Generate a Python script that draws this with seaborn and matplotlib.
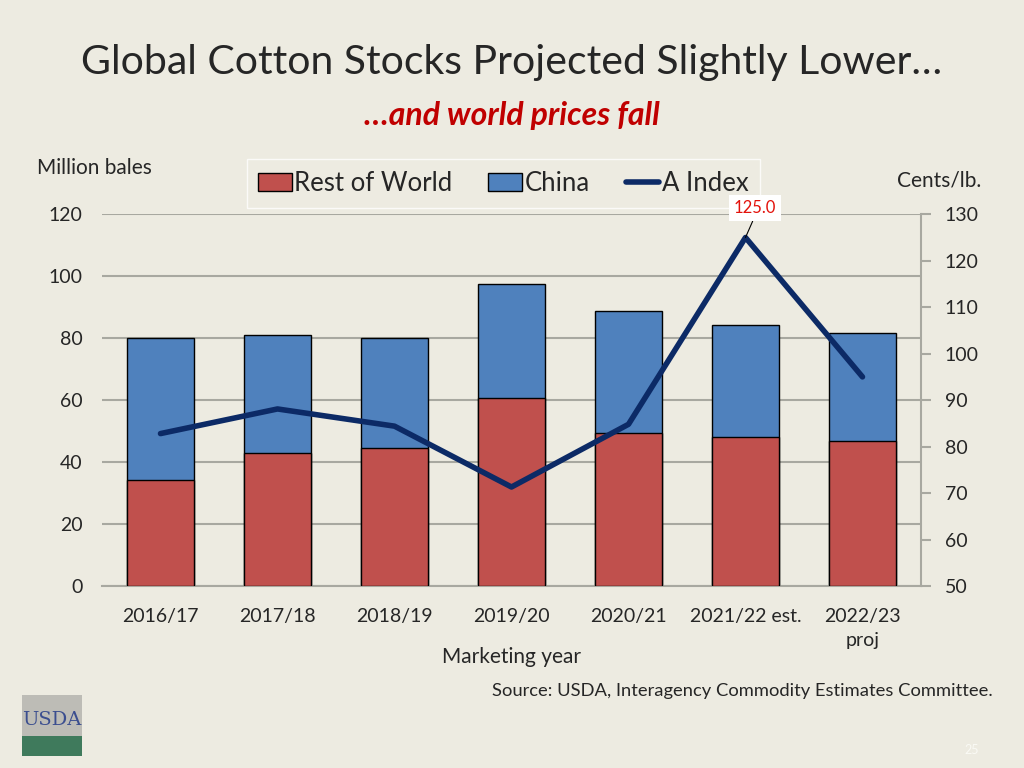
import matplotlib.pyplot as plt
from matplotlib.patches import Rectangle
import seaborn as sns
import pandas as pd

years = ['2016/17', '2017/18', '2018/19', '2019/20', '2020/21', '2021/22 est.', '2022/23\nproj']
rest_of_world = [34.2, 42.9, 44.5, 60.6, 49.4, 48.1, 46.8]
china = [45.8, 38.1, 35.5, 36.8, 39.3, 36.1, 34.8]
a_index = [82.8, 88.1, 84.4, 71.3, 84.8, 125.0, 95.0]

bg = '#EDEBE1'
red = '#C0504D'
blue = '#4F81BD'
navy = '#0C2A66'

sns.set_style('white')
plt.rcParams['font.family'] = ['Lato', 'DejaVu Sans']

df = pd.DataFrame({'year': years, 'row': rest_of_world, 'china': china, 'aindex': a_index})
df['total'] = df['row'] + df['china']

fig = plt.figure(figsize=(10.24, 7.68), dpi=100, facecolor=bg)
ax = fig.add_axes([0.0996, 0.237, 0.7998, 0.484])
ax.set_facecolor(bg)

# stacked bars: total (blue) behind, rest of world (red) in front
sns.barplot(data=df, x='year', y='total', color=blue, width=0.57, edgecolor='black',
            linewidth=1, saturation=1, ax=ax, zorder=2)
sns.barplot(data=df, x='year', y='row', color=red, width=0.57, edgecolor='black',
            linewidth=1, saturation=1, ax=ax, zorder=3)

ax.set_ylim(0, 120)
ax.set_yticks(range(0, 121, 20))
ax.set_xlim(-0.5, len(years) - 0.5)
ax.yaxis.grid(True, color='#A8A8A0', linewidth=1.5, zorder=0)
ax.set_axisbelow(True)
for s in ['top', 'right', 'left']:
    ax.spines[s].set_visible(False)
ax.spines['bottom'].set_color('#A8A8A0')
ax.spines['bottom'].set_linewidth(1.5)
ax.tick_params(axis='y', labelsize=14, length=0, pad=14)
ax.tick_params(axis='x', labelsize=14, length=0, pad=16)
for lbl in ax.get_xticklabels():
    lbl.set_linespacing(1.45)
ax.set_ylabel('')
ax.set_xlabel('')

ax2 = ax.twinx()
sns.lineplot(x=list(range(len(years))), y=df['aindex'], color=navy, linewidth=4, ax=ax2, zorder=4)
ax2.set_ylim(50, 130)
ax2.set_yticks(range(50, 131, 10))
ax2.set_ylabel('')
for s in ['top', 'left', 'bottom']:
    ax2.spines[s].set_visible(False)
ax2.spines['right'].set_color('#A8A8A0')
ax2.spines['right'].set_linewidth(1.5)
ax2.tick_params(axis='y', labelsize=14, length=7, width=1.5, color='#A8A8A0', pad=10)
ax.set_zorder(1)
ax2.set_zorder(2)
ax2.patch.set_visible(False)

peak = int(df['aindex'].idxmax())
ax2.annotate(f"{df['aindex'][peak]:.1f}", xy=(peak, df['aindex'][peak]),
             xytext=(peak + 0.08, df['aindex'][peak] + 6.3), ha='center', va='center',
             fontsize=12, color='#E3120B', zorder=10,
             bbox=dict(boxstyle='square,pad=0.3', fc='white', ec='none'),
             arrowprops=dict(arrowstyle='-', color='black', lw=0.8, shrinkA=0, shrinkB=0,
                             relpos=(0.5, 0)))

handles = [Rectangle((0, 0), 1, 1, fc=red, ec='black', lw=1),
           Rectangle((0, 0), 1, 1, fc=blue, ec='black', lw=1),
           plt.Line2D([0], [0], color=navy, lw=4)]
leg = fig.legend(handles, ['Rest of World', 'China', 'A Index'], ncol=3, fontsize=18.5,
                 loc='center', bbox_to_anchor=(0.4915, 0.761), frameon=True, facecolor=bg,
                 edgecolor='white', fancybox=False, handlelength=1.3, handletextpad=0.1,
                 columnspacing=1.4, borderpad=0.45, borderaxespad=0)
leg.set_zorder(0.5)

fig.text(0.500, 0.919, 'Global Cotton Stocks Projected Slightly Lower…', ha='center',
         va='center', fontsize=29.5)
fig.text(0.500, 0.849, '…and world prices fall', ha='center', va='center', fontsize=23,
         color='#C00000', fontweight='bold', fontstyle='italic')
fig.text(0.036, 0.781, 'Million bales', ha='left', va='center', fontsize=15)
fig.text(0.958, 0.765, 'Cents/lb.', ha='right', va='center', fontsize=15)
fig.text(0.4995, 0.1445, 'Marketing year', ha='center', va='center', fontsize=15)
fig.text(0.969, 0.100, 'Source: USDA, Interagency Commodity Estimates Committee.',
         ha='right', va='center', fontsize=13.2)
fig.text(0.949, 0.023, '25', ha='center', va='center', fontsize=9, color='#FAFAF5')

# USDA logo stand-in
fig.patches.append(Rectangle((0.021, 0.016), 0.059, 0.079, transform=fig.transFigure,
                             fc='#BDBCB6', ec='none'))
fig.patches.append(Rectangle((0.021, 0.016), 0.059, 0.026, transform=fig.transFigure,
                             fc='#3F7A5C', ec='none'))
fig.text(0.0505, 0.063, 'USDA', ha='center', va='center', fontsize=14,
         family='DejaVu Serif', color='#3B4E8F')

fig.savefig('out.png', dpi=100, facecolor=bg)
